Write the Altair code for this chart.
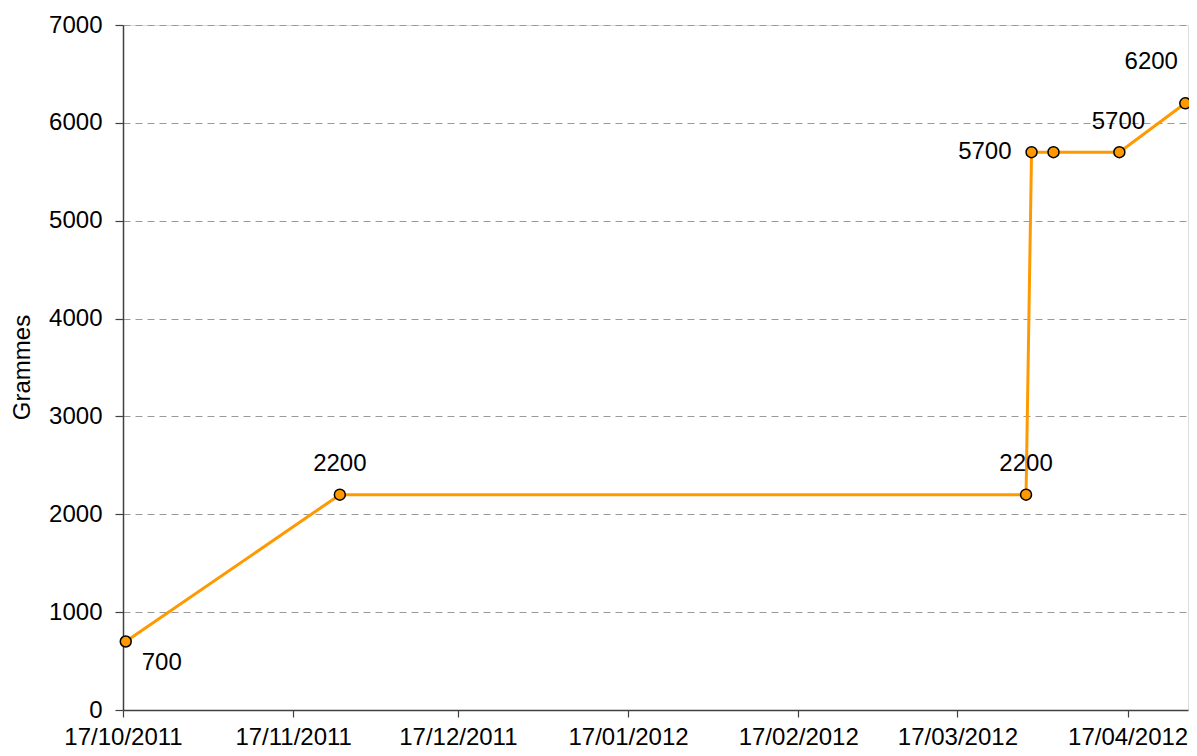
import altair as alt
import pandas as pd

# ---- data ----
dates = [
    "2011-10-17T12:00:00",
    "2011-11-25T12:00:00",
    "2012-03-29T12:00:00",
    "2012-03-30T12:00:00",
    "2012-04-03T12:00:00",
    "2012-04-15T12:00:00",
    "2012-04-27T12:00:00",
]
grams = [700, 2200, 2200, 5700, 5700, 5700, 6200]
labels = ["700", "2200", "2200", "5700", "", "5700", "6200"]
x_tick_dates = [(2011, 10, 17), (2011, 11, 17), (2011, 12, 17), (2012, 1, 17),
                (2012, 2, 17), (2012, 3, 17), (2012, 4, 17)]
y_ticks = [0, 1000, 2000, 3000, 4000, 5000, 6000, 7000]
y_title = "Grammes"

df = pd.DataFrame({"date": dates, "grams": grams, "label": labels,
                   "idx": list(range(len(dates)))})

FONT = "Liberation Sans"
ORANGE = "#FF9900"

x_enc = alt.X(
    "date:T",
    scale=alt.Scale(domain=[alt.DateTime(year=2011, month=10, date=17),
                            alt.DateTime(year=2012, month=4, date=28)]),
    axis=alt.Axis(
        values=[alt.DateTime(year=y, month=m, date=d) for (y, m, d) in x_tick_dates],
        format="%d/%m/%Y", title=None, grid=False,
        labelFont=FONT, labelFontSize=24, labelColor="black",
        labelPadding=8, labelBaseline="top", labelFlush=False, labelOverlap=False,
        tickSize=7, tickColor="#404040", tickWidth=1.2,
        domainColor="#404040", domainWidth=1.5,
    ),
)
y_enc = alt.Y(
    "grams:Q",
    scale=alt.Scale(domain=[0, 7000], nice=False),
    axis=alt.Axis(
        values=y_ticks, format="d", title=y_title,
        labelFont=FONT, labelFontSize=24, labelColor="black", labelPadding=13,
        tickSize=8, tickColor="#404040", tickWidth=1.2,
        domainColor="#404040", domainWidth=1.5,
        grid=True, gridColor="#9a9a9a", gridDash=[7, 5], gridWidth=1,
        titleFont=FONT, titleFontSize=24, titleFontWeight="normal", titleColor="black",
        titleAngle=270, titleX=-101, titleY=342, titleAlign="center",
        titleBaseline="middle",
    ),
)

base = alt.Chart(df)
line = base.mark_line(color=ORANGE, strokeWidth=3).encode(x=x_enc, y=y_enc)
points = base.mark_point(filled=True, fill=ORANGE, stroke="black", strokeWidth=1.5,
                         size=120, opacity=1, shape="circle").encode(x=x_enc, y=y_enc)

placements = [
    (0, dict(dx=36, dy=21, align="center")),
    (1, dict(dx=0, dy=-31, align="center")),
    (2, dict(dx=0, dy=-31, align="center")),
    (3, dict(dx=-20, dy=0, align="right")),
    (5, dict(dx=-1, dy=-30, align="center")),
    (6, dict(dx=-34, dy=-41, align="center")),
]
texts = []
for i, opts in placements:
    texts.append(
        base.transform_filter(alt.datum.idx == i)
        .mark_text(font=FONT, fontSize=24, color="black", baseline="middle", **opts)
        .encode(x=x_enc, y=y_enc, text="label:N")
    )

chart = (
    alt.layer(line, points, *texts)
    .properties(width=1065, height=685,
                padding={"left": 115, "top": 17, "right": 1, "bottom": 38},
                autosize="none")
    .configure_view(stroke="#A0A0A0", strokeWidth=2)
    .configure(background="white")
)

chart.save("out.html", embed_options={"renderer": "svg", "actions": False})
